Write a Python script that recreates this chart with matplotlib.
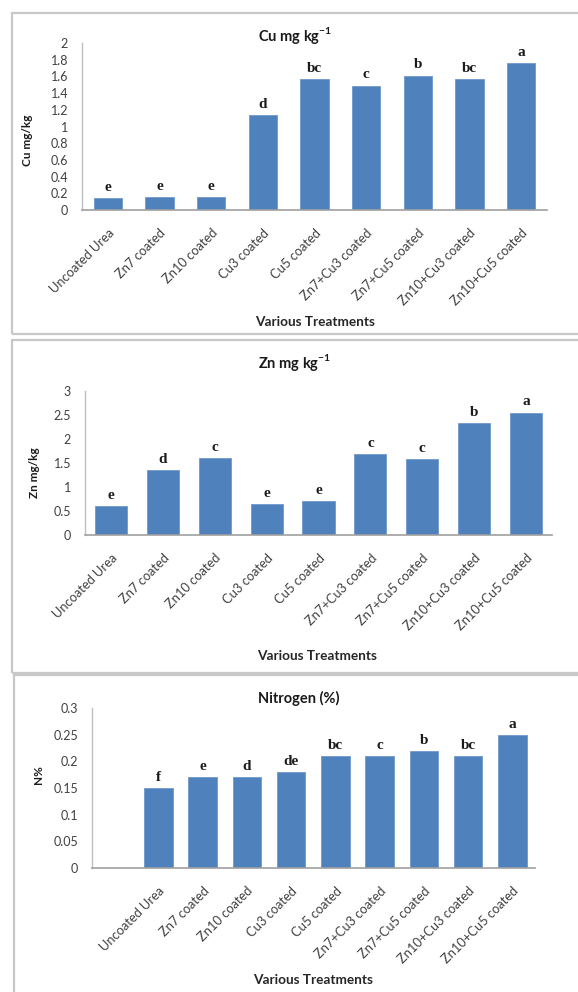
import matplotlib
matplotlib.use("Agg")
import matplotlib.pyplot as plt
from matplotlib.patches import Rectangle
import numpy as np

plt.rcParams['font.family'] = ['Lato', 'DejaVu Sans']
plt.rcParams['mathtext.fontset'] = 'custom'
plt.rcParams['mathtext.rm'] = 'Lato'
plt.rcParams['mathtext.bf'] = 'Lato:bold'

treatments = ['Uncoated Urea', 'Zn7 coated', 'Zn10 coated', 'Cu3 coated', 'Cu5 coated',
              'Zn7+Cu3 coated', 'Zn7+Cu5 coated', 'Zn10+Cu3 coated', 'Zn10+Cu5 coated']

cu_values = [0.14, 0.15, 0.15, 1.14, 1.57, 1.49, 1.61, 1.57, 1.76]
cu_letters = ['e', 'e', 'e', 'd', 'bc', 'c', 'b', 'bc', 'a']

zn_values = [0.60, 1.36, 1.61, 0.65, 0.70, 1.68, 1.59, 2.33, 2.55]
zn_letters = ['e', 'd', 'c', 'e', 'e', 'c', 'c', 'b', 'a']

n_values = [0.15, 0.17, 0.17, 0.18, 0.21, 0.21, 0.22, 0.21, 0.25]
n_letters = ['f', 'e', 'd', 'de', 'bc', 'c', 'b', 'bc', 'a']

W, H = 578, 992
BAR = '#4F81BD'
TXT = '#404040'

fig = plt.figure(figsize=(W / 100, H / 100), dpi=100)


def fx(x):
    return x / W


def fy(y):
    return 1 - y / H


def panel_box(x0, y0, x1, y1):
    r = Rectangle((fx(x0), fy(y1)), fx(x1) - fx(x0), fy(y0) - fy(y1),
                  transform=fig.transFigure, fill=False, edgecolor='#c8c8c8', lw=1.6)
    fig.patches.append(r)


def bar_panel(box, values, letters, ymax, ystep, width, offset,
              title, title_xy, ylabel, ylabel_xy, xlabel_xy):
    left, top, right, bottom = box
    ax = fig.add_axes([fx(left), fy(bottom), fx(right) - fx(left), fy(top) - fy(bottom)])
    n = len(values) + offset
    x = np.arange(offset, n)
    ax.bar(x, values, width=width, color=BAR, edgecolor='#6f98c9', lw=0.6, zorder=2)
    for xi, v, l in zip(x, values, letters):
        ax.annotate(l, (xi, v), xytext=(0, 3), textcoords='offset points',
                    ha='center', va='bottom', fontsize=11, fontweight='bold',
                    family='Liberation Serif', color='#1a1a1a')
    ax.set_xlim(-0.5, n - 0.5)
    ax.set_ylim(0, ymax)
    ticks = np.arange(0, ymax + ystep / 2, ystep)
    ax.set_yticks(ticks)
    ax.set_yticklabels([f"{t:.2f}".rstrip('0').rstrip('.') for t in ticks],
                       fontsize=9, color=TXT)
    ax.set_xticks(x)
    ax.set_xticklabels(treatments, rotation=45, ha='right', rotation_mode='anchor',
                       fontsize=9.3, color=TXT)
    ax.tick_params(axis='both', length=0)
    ax.tick_params(axis='x', pad=12)
    ax.tick_params(axis='y', pad=10)
    for s in ['top', 'right']:
        ax.spines[s].set_visible(False)
    ax.spines['left'].set_color('#bfbfbf')
    ax.spines['bottom'].set_color('#a0a0a0')
    ax.spines['left'].set_linewidth(1.0)
    ax.spines['bottom'].set_linewidth(1.2)
    fig.text(fx(title_xy[0]), fy(title_xy[1]), title, ha='center', va='center',
             fontsize=10.5, fontweight='bold', color='#1a1a1a')
    fig.text(fx(ylabel_xy[0]), fy(ylabel_xy[1]), ylabel, ha='center', va='center',
             rotation=90, fontsize=8.5, fontweight='bold', color='#1a1a1a')
    fig.text(fx(xlabel_xy[0]), fy(xlabel_xy[1]), 'Various Treatments', ha='center',
             va='center', fontsize=9.8, fontweight='bold', color='#262626')
    return ax


panel_box(12, 13, 600, 333.5)
panel_box(12, 339.5, 600, 672.5)
panel_box(14, 675, 600, 1100)

bar_panel((82, 43, 547, 210), cu_values, cu_letters, 2.0, 0.2, 0.55, 0,
          r'Cu mg kg$^{\mathbf{-1}}$', (295, 35), 'Cu mg/kg', (27.5, 140), (315, 322))
bar_panel((85, 391, 552, 535), zn_values, zn_letters, 3.0, 0.5, 0.62, 0,
          r'Zn mg kg$^{\mathbf{-1}}$', (295, 362), 'Zn mg/kg', (35, 473), (317, 656))
bar_panel((92, 708, 534.5, 868), n_values, n_letters, 0.3, 0.05, 0.64, 1,
          'Nitrogen (%)', (299, 698), 'N%', (38.5, 775), (313, 980))

fig.savefig('out.png', dpi=100)
